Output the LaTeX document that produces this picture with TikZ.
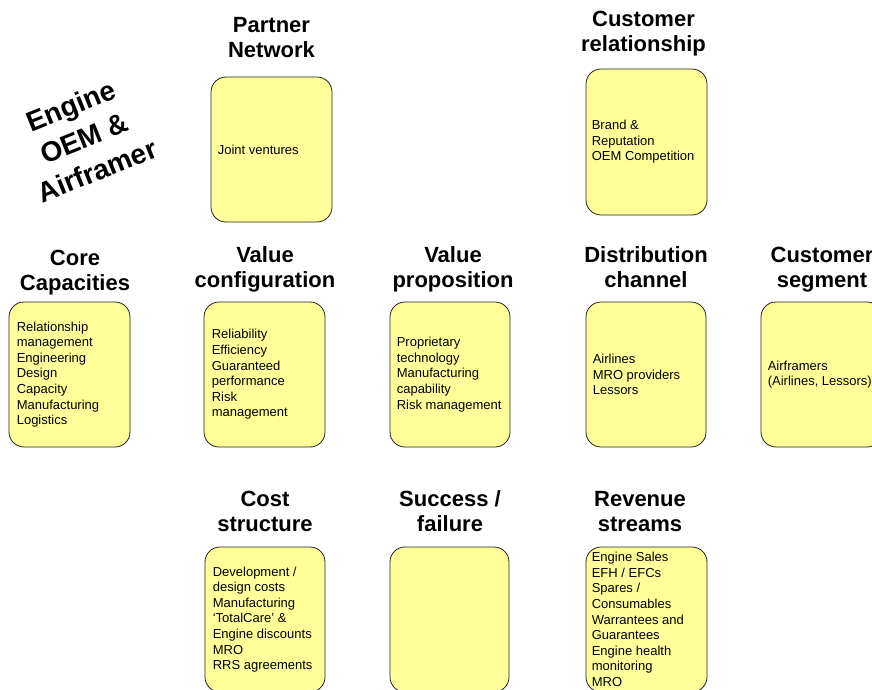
\documentclass[tikz,border=0pt]{standalone}
\usepackage{fontspec}
\setmainfont{Liberation Sans}
\definecolor{boxyellow}{HTML}{FFFF99}
\definecolor{boxline}{HTML}{222222}
\begin{document}
\begin{tikzpicture}[x=1pt,y=-1pt,
  bmbox/.style={draw=boxline, fill=boxyellow, rounded corners=15pt, line width=0.8pt,
    minimum width=121pt, minimum height=145pt, inner sep=0pt},
  bmtitle/.style={font=\fontsize{22}{25}\selectfont\bfseries, align=center, anchor=base, inner sep=0pt},
  bmbody/.style={font=\fontsize{13}{15.6}\selectfont, align=left, anchor=west, inner sep=0pt},
  bmbig/.style={font=\fontsize{28}{35}\selectfont\bfseries, align=center, rotate=22, inner sep=0pt}]
\clip (0,0) rectangle (872,690);
\useasboundingbox (0,0) rectangle (872,690);

% boxes
\node[bmbox] (pn)   at (271.5,149.5) {};
\node[bmbox, minimum height=146pt] (cr) at (646.5,142) {};
\node[bmbox] (cc)   at (69.5,374.5) {};
\node[bmbox] (vc)   at (264.5,374.5) {};
\node[bmbox, minimum width=120pt] (vp) at (450,374.5) {};
\node[bmbox, minimum width=120pt] (dc) at (646,374.5) {};
\node[bmbox] (cs)   at (821.5,374.5) {};
\node[bmbox, minimum width=120pt] (cost) at (265,619.5) {};
\node[bmbox, minimum width=119pt] (sf)   at (449.5,619.5) {};
\node[bmbox] (rs)   at (646.5,619.5) {};

% titles (anchor = baseline of the last line)
\node[bmtitle] (pnT) at (271.5,58) {Partner\\Network};
\node[bmtitle] (crT) at (643.5,52) {Customer\\relationship};
\node[bmtitle] (ccT) at (75,290) {Core\\Capacities};
\node[bmtitle] (vcT) at (265,287) {Value\\configuration};
\node[bmtitle] (vpT) at (453,287) {Value\\proposition};
\node[bmtitle] (dcT) at (646,287) {Distribution\\channel};
\node[bmtitle] (csT) at (822,287) {Customer\\segment};
\node[bmtitle] (costT) at (265,531) {Cost\\structure};
\node[bmtitle] (sfT) at (450,531) {Success /\\failure};
\node[bmtitle] (rsT) at (640,531) {Revenue\\streams};

% big rotated label
\node[bmbig] (eng) at (84,138) {Engine\\OEM \&\\Airframer};

% box contents
\node[bmbody] (pnB) at ([xshift=7pt]pn.west) {Joint ventures};
\node[bmbody] (crB) at ([xshift=6pt]cr.west) {Brand \&\\Reputation\\OEM Competition};
\node[bmbody] (ccB) at ([xshift=8pt]cc.west) {Relationship\\management\\Engineering\\Design\\Capacity\\Manufacturing\\Logistics};
\node[bmbody] (vcB) at ([xshift=8pt]vc.west) {Reliability\\Efficiency\\Guaranteed\\performance\\Risk\\management};
\node[bmbody] (vpB) at ([xshift=7pt]vp.west) {Proprietary\\technology\\Manufacturing\\capability\\Risk management};
\node[bmbody] (dcB) at ([xshift=7pt]dc.west) {Airlines\\MRO providers\\Lessors};
\node[bmbody] (csB) at ([xshift=7pt]cs.west) {Airframers\\(Airlines, Lessors)};
\node[bmbody] (costB) at ([xshift=8pt]cost.west) {Development /\\design costs\\Manufacturing\\`TotalCare' \&\\Engine discounts\\MRO\\RRS agreements};
\node[bmbody] (rsB) at ([xshift=6pt]rs.west) {Engine Sales\\EFH / EFCs\\Spares /\\Consumables\\Warrantees and\\Guarantees\\Engine health\\monitoring\\MRO};
\end{tikzpicture}
\end{document}
